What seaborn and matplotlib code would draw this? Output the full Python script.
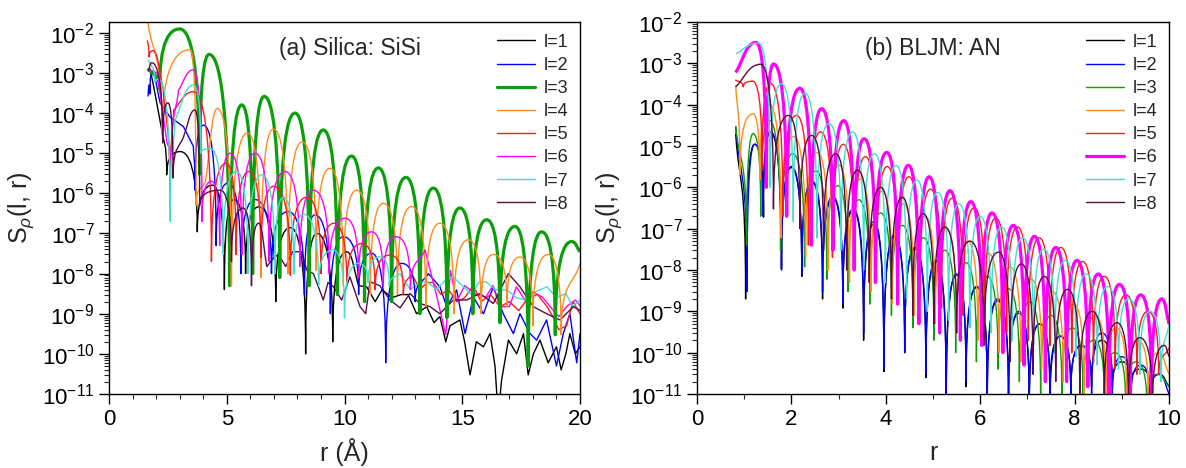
import numpy as np
import pandas as pd
import matplotlib
matplotlib.use("Agg")
import matplotlib.pyplot as plt
from matplotlib.path import Path
from matplotlib.patches import PathPatch
from matplotlib.lines import Line2D
from matplotlib.ticker import LogLocator, MultipleLocator, NullFormatter
import seaborn as sns

# ---------------- data: panel (a) Silica SiSi (extrema) ----------------
a1_r = [1.74, 1.9, 2.24, 2.45, 3.02, 3.75, 4.4, 4.9, 5.3, 5.8, 6.35, 7.08, 7.7, 8.35, 8.82, 9.5, 10.09, 10.6]
a1_S = [1.3e-3, 4.5e-4, 3.8e-5, 2.9e-6, 1.1e-5, 1.1e-7, 1.6e-6, 4e-9, 7e-7, 1e-8, 4.6e-7, 2e-9, 1.4e-7, 1e-10, 1e-7, 2e-10, 3.5e-8, 5e-9]
a1_tail_r = [10.6, 10.94, 11.3, 11.6, 12.0, 12.4, 12.7, 13.06, 13.49, 13.8, 14.05, 14.3, 14.48, 14.9, 15.1, 15.33, 15.6, 15.9, 16.18,
             16.39, 16.5, 16.6, 16.67, 16.96, 17.31, 17.6, 17.8, 18.02, 18.3, 18.65, 19.0, 19.2, 19.4, 19.57, 19.8, 20.0]
a1_tail_S = [5e-9, 4.7e-9, 2e-9, 4e-9, 2.5e-9, 3e-9, 3e-9, 1e-9, 1.5e-9, 6e-10, 8.5e-10, 2e-10, 5e-10, 7e-10, 2e-10, 3e-11, 2e-10, 1.5e-10, 3.2e-10,
             5e-11, 5e-12, 8e-12, 2.2e-11, 2.2e-10, 1e-10, 3.2e-10, 3e-11, 1e-10, 2.2e-10, 6e-11, 1.5e-10, 4e-11, 1e-10, 3.2e-10, 1e-10, 1.5e-10]

a2_r = [1.66, 1.7, 1.74, 1.82, 2.17, 2.59, 3.16, 3.58, 3.65, 4.01, 4.55, 5.05, 5.6, 6.2, 6.9, 7.6, 8.3, 8.75, 9.4, 9.95, 10.6, 11.15, 11.75, 12.43, 13.0, 13.56]
a2_S = [2.6e-4, 5e-4, 3e-4, 1e-3, 1.8e-4, 8e-5, 4.6e-5, 1.5e-5, 1.2e-6, 5e-5, 5e-8, 1.8e-6, 1e-8, 7e-7, 1e-8, 3.5e-7, 3e-9, 2.9e-7, 1e-9, 8.3e-8, 3e-9, 3.2e-8, 6e-11, 1.8e-8, 2e-9, 1e-8]
a2_tail_r = [13.56, 14.05, 14.34, 14.76, 15.12, 15.47, 15.9, 16.32, 16.74, 17.17, 17.45, 17.88, 18.16, 18.58, 19.0, 19.29, 19.57, 19.86, 20.0]
a2_tail_S = [1e-8, 4.7e-9, 1.5e-9, 3.9e-9, 3.2e-10, 2.6e-9, 1e-9, 4.7e-9, 1e-9, 3.2e-10, 1e-9, 3.2e-10, 2.2e-10, 7e-10, 5e-11, 3.2e-10, 1e-9, 6e-11, 3.2e-10]

a3_r = [1.65, 2.15, 3.0, 3.85, 4.25, 5.12, 5.64, 6.1, 6.59, 7.25, 7.9, 8.5, 9.1, 9.7, 10.3, 10.85, 11.44, 12.0, 12.61, 13.2,
        13.77, 14.35, 14.9, 15.45, 16.04, 16.6, 17.24, 17.8, 18.37, 18.95, 19.65, 20.0]
a3_S = [1.3e-3, 4e-4, 1.25e-2, 3e-6, 2.9e-3, 5e-9, 1.6e-4, 1e-8, 2.6e-4, 8e-9, 1.0e-4, 5e-9, 3.8e-5, 3e-9, 8.5e-6, 2e-9, 4.3e-6, 2e-9, 2.5e-6, 1e-9,
        1.35e-6, 8e-10, 4.3e-7, 1e-9, 2.2e-7, 6e-10, 1.5e-7, 5e-11, 1.1e-7, 3e-10, 6.3e-8, 3.5e-8]

a4_r = [1.66, 2.25, 3.45, 3.7, 4.1, 4.6, 5.2, 5.88, 6.45, 6.98, 7.6, 8.2, 8.8, 9.38, 9.95, 10.52, 11.1, 11.65, 12.25, 12.85,
        13.45, 14.05, 14.65, 15.26, 15.8, 16.32, 16.9, 17.45, 18.0, 18.65, 19.2, 20.0]
a4_S = [1.8e-2, 3e-5, 3.8e-3, 5e-7, 2e-6, 1.3e-4, 5e-9, 3.2e-5, 8e-9, 4.0e-5, 1e-8, 1.9e-5, 1.2e-8, 4.2e-6, 5e-9, 1.2e-6, 3e-9, 5.6e-7, 3e-9, 4.7e-7,
        1.5e-9, 1.8e-7, 1e-9, 7e-8, 1e-9, 3e-8, 1.5e-9, 2.6e-8, 5e-10, 3e-8, 3e-10, 1.8e-8]

a5_r = [1.63, 1.70, 1.87, 2.3, 2.59, 2.75, 3.58, 4.35, 4.97, 5.4, 5.95, 6.45, 7.0, 7.7, 8.4, 9.0, 9.55, 10.1, 10.73, 11.3, 11.93, 12.5, 12.85]
a5_S = [6.5e-3, 2.5e-3, 3.6e-3, 4e-4, 5e-7, 1.2e-4, 3.4e-4, 2e-8, 5.6e-6, 3e-8, 3.5e-6, 2.5e-8, 1.5e-6, 9e-9, 8e-7, 1e-8, 1.8e-7, 5e-9, 5.6e-8, 4e-9, 2.9e-8, 3e-9, 1e-8]
a5_tail_r = [12.85, 13.2, 13.5, 13.77, 14.1, 14.4, 14.8, 15.1, 15.47, 15.8, 16.2, 16.6, 17.0, 17.4, 17.8, 18.2, 18.6, 18.87, 19.1, 19.43, 19.7, 20.0]
a5_tail_S = [1e-8, 4e-9, 6e-9, 6e-9, 3e-9, 4e-9, 2e-9, 2.5e-9, 5e-9, 2e-9, 3e-9, 1.5e-9, 2e-9, 1.2e-9, 2.5e-9, 3e-9, 1.5e-9, 8e-10, 4e-10, 5e-10, 2e-9, 1e-9]

a6_r = [1.74, 2.05, 2.45, 2.65, 2.95, 3.58, 3.95, 4.35, 4.7, 5.14, 5.65, 6.2, 6.8, 7.48, 8.1, 8.68, 9.35, 10.02, 10.6, 11.15, 11.65, 12.2, 12.8, 13.42]
a6_S = [1.2e-3, 1.0e-3, 2e-5, 5e-6, 3.7e-4, 1.2e-3, 2e-7, 2e-6, 5e-8, 1e-5, 3e-8, 1e-5, 2e-8, 3.5e-6, 1.5e-8, 1.2e-6, 1e-8, 2.4e-7, 8e-9, 1.1e-7, 5e-9, 8.3e-8, 4e-9, 3.9e-8]
a6_tail_r = [13.42, 13.9, 14.3, 14.5, 14.76, 15.1, 15.6, 16.0, 16.3, 16.6, 17.0, 17.3, 17.7, 18.0, 18.4, 18.87, 19.1, 19.43, 19.8, 20.0]
a6_tail_S = [3.9e-8, 3e-9, 3e-10, 1.2e-8, 2e-9, 5e-9, 3e-9, 2.6e-9, 5e-9, 1.5e-9, 1.5e-9, 4.7e-9, 2e-9, 3.5e-9, 2.6e-9, 1.2e-9, 8.5e-10, 1.5e-9, 2.2e-9, 1.6e-9]

a7_r = [1.67, 1.95, 2.1, 2.6, 2.81, 3.58, 3.9, 4.3, 4.85, 5.42, 5.9, 6.49, 7.05, 7.4, 7.85, 8.25, 8.9, 9.53, 10.0, 10.59, 11.0, 11.5, 11.9, 12.36]
a7_S = [2.1e-3, 6e-4, 7e-4, 2e-7, 6.8e-5, 5e-4, 1e-5, 1.3e-5, 3e-8, 3.5e-6, 1e-8, 2.9e-6, 1e-8, 8e-7, 1e-8, 3e-7, 5e-9, 3.9e-8, 8e-10, 1.8e-8, 6e-9, 2.6e-8, 5e-9, 1e-8]
a7_tail_r = [12.36, 12.8, 13.2, 13.5, 13.9, 14.3, 14.6, 15.0, 15.4, 15.7, 16.0, 16.4, 16.9, 17.3, 17.7, 18.1, 18.6, 19.0, 19.4, 19.7, 20.0]
a7_tail_S = [1e-8, 4e-9, 6e-9, 6.3e-9, 4e-9, 7e-9, 8.3e-9, 5e-9, 3e-9, 6e-9, 6.3e-9, 4e-9, 3.9e-9, 2.5e-9, 2.2e-9, 3.5e-9, 4.7e-9, 2.5e-9, 3.2e-9, 1.5e-9, 2.2e-9]

a8_r = [1.67, 1.81, 2.28, 2.5, 2.72, 3.2, 3.65, 3.85, 4.72, 5.2, 5.7, 6.05, 6.35, 6.7]
a8_S = [1.1e-3, 1.8e-3, 1.8e-5, 1.8e-4, 2.4e-6, 3e-5, 1.2e-4, 5e-7, 1.2e-6, 2e-8, 4.3e-7, 5e-9, 1.8e-7, 1.5e-8]
a8_tail_r = [6.7, 7.0, 7.2, 7.5, 7.8, 8.18, 8.4, 8.68, 9.1, 9.3, 9.53, 9.88, 10.23, 10.66, 10.9, 11.08, 11.5, 11.93, 12.36, 12.78, 13.2,
             13.63, 14.05, 14.62, 15.19, 15.75, 16.32, 16.96, 17.45, 18.02, 18.58, 19.15, 19.72, 20.0]
a8_tail_S = [1.5e-8, 2.5e-8, 3e-8, 1.5e-8, 3.5e-8, 3.5e-8, 1.2e-8, 1e-8, 2.2e-9, 6e-9, 4.7e-9, 2.2e-9, 8.3e-9, 1.5e-9, 1e-9, 6.3e-9, 5e-9, 2.2e-9, 1.4e-9, 3.2e-9, 1.8e-9,
             1.5e-9, 1e-9, 2.2e-9, 2.2e-9, 3.2e-9, 1.8e-9, 1e-8, 4.7e-9, 1.5e-9, 1e-9, 7e-10, 1.5e-9, 1.2e-9]

# ---------------- data: panel (b) BLJM AN ----------------
b1_r = [0.82, 1.03, 1.22, 1.41, 1.55, 1.79, 2.0, 2.22, 2.44, 2.66, 2.88, 3.09, 3.31, 3.53, 3.75, 3.96, 4.18, 4.4, 4.62, 4.85,
        5.07, 5.28, 5.5, 5.7, 5.93, 6.15, 6.37, 6.6, 6.82, 7.04, 7.26, 7.48, 7.7, 7.92, 8.14, 8.36, 8.58, 8.8, 9.0, 9.2, 9.4, 9.6, 9.8, 10.0]
b1_S = [2e-5, 2e-9, 1.1e-5, 1.9e-7, 2.2e-5, 1.1e-8, 3e-6, 7e-9, 1.3e-6, 2e-9, 5.5e-7, 1.2e-9, 2.7e-7, 2e-10, 1.3e-7, 3.5e-11, 6.5e-8, 1e-10, 3.2e-8, 2.5e-11,
        1.6e-8, 8e-12, 7.5e-9, 1.5e-11, 3.8e-9, 8e-12, 1.8e-9, 8e-12, 9e-10, 5e-12, 5e-10, 1e-11, 2.5e-10, 1e-11, 1.5e-10, 1.5e-11, 2e-10, 1.5e-11, 6e-11, 2e-11, 4e-11, 1.5e-11, 3e-11, 1.5e-11]

b2_r = [0.82, 1.06, 1.22, 1.4, 1.56, 1.79, 2.0, 2.22, 2.44, 2.66, 2.88, 3.09, 3.31, 3.53, 3.75, 3.96, 4.18, 4.4, 4.62, 4.85,
        5.07, 5.28, 5.5, 5.7, 5.93, 6.15, 6.37, 6.6, 6.82, 7.04, 7.26, 7.48, 7.7, 7.92, 8.14, 8.36, 8.58, 8.8, 9.0, 9.2, 9.4, 9.6, 9.8, 10.0]
b2_S = [3e-5, 3e-9, 1.1e-5, 2e-7, 2.2e-5, 1e-8, 3.2e-6, 8e-9, 1.4e-6, 3e-9, 6e-7, 1.5e-9, 3e-7, 3e-10, 1.5e-7, 4e-11, 7e-8, 1e-10, 3.5e-8, 3e-11,
        1.7e-8, 5e-12, 8e-9, 2e-11, 4e-9, 5e-12, 2e-9, 5e-12, 1e-9, 5e-12, 5e-10, 5e-12, 2.5e-10, 1e-11, 1.5e-10, 1e-11, 3e-10, 1e-11, 8e-11, 1e-11, 5e-11, 8e-12, 3e-11, 1e-11]

b3_r = [0.82, 1.05, 1.19, 1.35, 1.53, 1.77, 2.03, 2.28, 2.52, 2.75, 2.98, 3.2, 3.43, 3.66, 3.89, 4.12, 4.35, 4.58, 4.8, 5.02,
        5.25, 5.48, 5.7, 5.92, 6.15, 6.38, 6.6, 6.83, 7.05, 7.28, 7.5, 7.73, 7.95, 8.18, 8.4, 8.63, 8.85, 9.08, 9.3, 9.53, 9.75, 10.0]
b3_S = [3e-5, 4e-8, 2e-5, 2e-7, 4.2e-5, 3e-8, 6.5e-6, 1.2e-8, 2.5e-6, 6e-9, 1.1e-6, 3e-9, 5e-7, 1.5e-9, 2.4e-7, 8e-10, 1.2e-7, 4e-10, 6e-8, 2e-10,
        3e-8, 1e-10, 1.5e-8, 6e-11, 7e-9, 4e-11, 3.5e-9, 2e-11, 1.7e-9, 1e-11, 8e-10, 1e-11, 4e-10, 8e-12, 2e-10, 8e-12, 1e-10, 6e-12, 6e-11, 5e-12, 3e-11, 1.5e-11]

b4_r = [0.82, 0.91, 1.19, 1.33, 1.53, 1.78, 2.05, 2.3, 2.55, 2.78, 3.0, 3.23, 3.46, 3.69, 3.92, 4.14, 4.37, 4.6, 4.83, 5.05,
        5.28, 5.5, 5.73, 5.95, 6.18, 6.4, 6.63, 6.86, 7.08, 7.3, 7.53, 7.76, 7.98, 8.2, 8.43, 8.66, 8.88, 9.1, 9.33, 9.56, 9.78, 10.0]
b4_S = [3e-4, 2e-6, 6e-5, 1.5e-6, 1e-4, 6e-8, 1.7e-5, 2e-8, 7e-6, 1e-8, 3.5e-6, 5e-9, 1.6e-6, 3e-9, 8e-7, 1.5e-9, 4e-7, 8e-10, 2e-7, 5e-10,
        1e-7, 3e-10, 5e-8, 2e-10, 2.5e-8, 1e-10, 1.2e-8, 6e-11, 6e-9, 4e-11, 3e-9, 2e-11, 1.5e-9, 1e-11, 8e-10, 1e-11, 4e-10, 1e-11, 2e-10, 1e-11, 1e-10, 3e-11]

b5_r = [0.81, 0.98, 1.18, 1.38, 1.55, 1.82, 2.11, 2.36, 2.62, 2.87, 3.1, 3.33, 3.57, 3.8, 4.03, 4.26, 4.49, 4.72, 4.95, 5.18,
        5.41, 5.64, 5.87, 6.1, 6.33, 6.56, 6.79, 7.02, 7.25, 7.48, 7.71, 7.94, 8.17, 8.4, 8.63, 8.86, 9.09, 9.32, 9.55, 9.78, 10.0]
b5_S = [4e-4, 2.7e-4, 3.7e-4, 3e-6, 3.3e-4, 2e-7, 5.5e-5, 4e-8, 2.2e-5, 2e-8, 1.1e-5, 1e-8, 5.5e-6, 5e-9, 3.2e-6, 3e-9, 1.8e-6, 2e-9, 9e-7, 1.2e-9,
        5.5e-7, 8e-10, 3.2e-7, 5e-10, 1.8e-7, 3e-10, 1.1e-7, 2e-10, 6e-8, 1.5e-10, 3.5e-8, 1e-10, 1.6e-8, 6e-11, 7e-9, 4e-11, 2.5e-9, 3e-11, 1e-9, 3e-11, 1.3e-10]

b6_r = [0.82, 1.25, 1.47, 1.62, 1.90, 2.18, 2.42, 2.64, 2.88, 3.11, 3.33, 3.54, 3.78, 4.02, 4.25, 4.48, 4.70, 4.92, 5.14, 5.36,
        5.58, 5.80, 6.03, 6.25, 6.48, 6.70, 6.93, 7.15, 7.38, 7.60, 7.83, 8.05, 8.28, 8.50, 8.73, 8.95, 9.18, 9.40, 9.63, 9.85, 10.0]
b6_S = [6e-4, 3.2e-3, 1e-6, 9.6e-4, 2e-7, 2.5e-4, 4e-8, 8e-5, 3e-8, 4.1e-5, 1e-8, 1.5e-5, 5e-9, 7e-6, 1.5e-9, 3.4e-6, 5e-10, 1.8e-6, 3e-10, 8.3e-7,
        2e-10, 4.5e-7, 1.5e-10, 2.4e-7, 1e-10, 1.2e-7, 5e-11, 6.5e-8, 2e-11, 3.5e-8, 2e-11, 1.7e-8, 1.5e-11, 8e-9, 1e-11, 4.5e-9, 1e-11, 2.5e-9, 8e-12, 2e-9, 5e-10]

b7_r = [0.83, 1.30, 1.55, 1.79, 2.04, 2.29, 2.54, 2.80, 3.05, 3.30, 3.53, 3.76, 3.99, 4.22, 4.44, 4.66, 4.88, 5.10, 5.33, 5.55,
        5.78, 6.00, 6.23, 6.45, 6.68, 6.90, 7.13, 7.35, 7.58, 7.80, 8.03, 8.25, 8.48, 8.70, 8.93, 9.15, 9.38, 9.60, 9.83, 10.0]
b7_S = [1.7e-3, 3.1e-3, 1e-6, 3.2e-4, 1.5e-7, 1.9e-4, 6e-8, 3.5e-5, 3e-8, 2.2e-5, 1e-8, 6.5e-6, 5e-9, 3.4e-6, 2e-9, 1.5e-6, 1e-9, 7.6e-7, 6e-10, 4e-7,
        4e-10, 2e-7, 3e-10, 1.1e-7, 2e-10, 6e-8, 1.5e-10, 3.2e-8, 1e-10, 1.7e-8, 8e-11, 8e-9, 5e-11, 4e-9, 4e-11, 2e-9, 3e-11, 1e-9, 2e-11, 5e-10]

b8_r = [0.82, 1.35, 1.62, 1.94, 2.18, 2.43, 2.68, 2.94, 3.17, 3.40, 3.65, 3.89, 4.12, 4.35, 4.57, 4.79, 5.02, 5.25, 5.50, 5.78,
        6.08, 6.39, 6.63, 6.87, 7.12, 7.36, 7.60, 7.85, 8.11, 8.37, 8.63, 8.90, 9.14, 9.38, 9.65, 9.90, 10.0]
b8_S = [2.7e-4, 9.5e-4, 3e-7, 5.5e-5, 1e-7, 1.8e-5, 3e-8, 6.5e-6, 1e-8, 2.6e-6, 5e-9, 1e-6, 2e-9, 5.7e-7, 8e-10, 2.3e-7, 5e-10, 1.1e-7, 3e-10, 5e-8,
        1.5e-10, 2.7e-8, 6e-11, 1.4e-8, 3e-11, 7e-9, 2e-11, 3.4e-9, 1e-11, 1e-9, 8e-12, 5.3e-10, 5e-12, 2.3e-10, 5e-12, 1.5e-10, 8e-11]

labels = ["l=1", "l=2", "l=3", "l=4", "l=5", "l=6", "l=7", "l=8"]
colors = ["#000000", "#0000ff", "#0a9e0a", "#ff8c1a", "#ff1a1a", "#ff00ff", "#40e0d0", "#5c0a45"]

panel_a = [(a1_r, a1_S), (a2_r, a2_S), (a3_r, a3_S), (a4_r, a4_S), (a5_r, a5_S), (a6_r, a6_S), (a7_r, a7_S), (a8_r, a8_S)]
tails_a = {1: (a1_tail_r, a1_tail_S), 2: (a2_tail_r, a2_tail_S), 5: (a5_tail_r, a5_tail_S),
           6: (a6_tail_r, a6_tail_S), 7: (a7_tail_r, a7_tail_S), 8: (a8_tail_r, a8_tail_S)}
panel_b = [(b1_r, b1_S), (b2_r, b2_S), (b3_r, b3_S), (b4_r, b4_S), (b5_r, b5_S), (b6_r, b6_S), (b7_r, b7_S), (b8_r, b8_S)]

# ---------------- style ----------------
sns.set_theme(style="ticks")
plt.rcParams['font.family'] = ['Liberation Sans', 'DejaVu Sans']
plt.rcParams.update({
    'mathtext.fontset': 'custom',
    'mathtext.rm': 'Liberation Sans',
    'mathtext.it': 'Liberation Sans:italic',
    'mathtext.bf': 'Liberation Sans:bold',
    'axes.unicode_minus': False,
    'axes.linewidth': 1.0,
    'axes.edgecolor': 'black',
})


def arch_path(r, S):
    """Smooth rendering through read extrema: cusps at minima, rounded tops at maxima (log space)."""
    x = np.asarray(r, float)
    y = np.log10(np.asarray(S, float))
    n = len(x)
    kind = []
    for i in range(n):
        if i == 0 or i == n - 1:
            kind.append('mid')
        elif y[i] > y[i - 1] and y[i] > y[i + 1]:
            kind.append('max')
        elif y[i] < y[i - 1] and y[i] < y[i + 1]:
            kind.append('min')
        else:
            kind.append('mid')
    verts = [(x[0], y[0])]
    codes = [Path.MOVETO]
    for i in range(n - 1):
        x0, y0, x1, y1 = x[i], y[i], x[i + 1], y[i + 1]
        dx, dy = x1 - x0, y1 - y0
        if kind[i] == 'min':
            c1 = (x0, y0 + 0.8 * dy)
        elif kind[i] == 'max':
            c1 = (x0 + 0.5 * dx, y0)
        else:
            c1 = (x0 + dx / 3, y0 + dy / 3)
        if kind[i + 1] == 'min':
            c2 = (x1, y1 - 0.8 * dy)
        elif kind[i + 1] == 'max':
            c2 = (x1 - 0.5 * dx, y1)
        else:
            c2 = (x1 - dx / 3, y1 - dy / 3)
        verts += [c1, c2, (x1, y1)]
        codes += [Path.CURVE4] * 3
    verts = np.array(verts)
    verts[:, 1] = 10 ** verts[:, 1]
    return Path(verts, codes)


fig = plt.figure(figsize=(11.86, 4.68), dpi=100)
axA = fig.add_axes([109 / 1186, 74 / 468, 471 / 1186, 372 / 468])
axB = fig.add_axes([697 / 1186, 74 / 468, 472 / 1186, 372 / 468])

for ax in (axA, axB):
    ax.set_yscale('log')

# tails (noisy parts) with seaborn
rows = []
for l, (rr, ss) in tails_a.items():
    for k, (x, v) in enumerate(zip(rr, ss)):
        rows.append({'l': labels[l - 1], 'r': x, 'S': v, 'k': k})
df_tail = pd.DataFrame(rows)
palette = {lab: c for lab, c in zip(labels, colors)}
sns.lineplot(data=df_tail, x='r', y='S', hue='l', palette=palette, estimator=None, sort=False,
             units='l', linewidth=1.0, legend=False, ax=axA)


def draw_panel(ax, curves, thick):
    for i, (rr, ss) in enumerate(curves):
        lw = 2.3 if i == thick else 1.0
        patch = PathPatch(arch_path(rr, ss), fill=False, edgecolor=colors[i], lw=lw,
                          joinstyle='round', capstyle='butt', zorder=2 + i * 0.1)
        ax.add_patch(patch)


draw_panel(axA, panel_a, thick=2)
draw_panel(axB, panel_b, thick=5)

axA.set_xlim(0, 20)
axA.set_ylim(1e-11, 10 ** -1.73)
axB.set_xlim(0, 10)
axB.set_ylim(1e-11, 1e-2)
axA.xaxis.set_major_locator(MultipleLocator(5))
axA.xaxis.set_minor_locator(MultipleLocator(1))
axB.xaxis.set_major_locator(MultipleLocator(2))
axB.xaxis.set_minor_locator(MultipleLocator(1))
for ax in (axA, axB):
    ax.yaxis.set_major_locator(LogLocator(base=10, numticks=20))
    ax.yaxis.set_minor_locator(LogLocator(base=10, subs=np.arange(2, 10), numticks=20))
    ax.yaxis.set_minor_formatter(NullFormatter())
    ax.tick_params(which='major', direction='out', length=7, width=1.0, labelsize=16, colors='black',
                   top=False, right=False)
    ax.tick_params(which='minor', direction='out', length=3.5, width=0.8, top=False, right=False)
    for s in ax.spines.values():
        s.set_visible(True)
        s.set_color('black')
        s.set_linewidth(1.0)
    ax.set_ylabel(r'S$_{\rho}$(l, r)', fontsize=18, labelpad=4)

axA.set_xlabel('r (Å)', fontsize=18, labelpad=6)
axB.set_xlabel('r', fontsize=18, labelpad=8)

axA.text(0.512, 0.93, '(a) Silica: SiSi', transform=axA.transAxes, ha='center', va='center', fontsize=16.5)
axB.text(0.50, 0.93, '(b) BLJM: AN', transform=axB.transAxes, ha='center', va='center', fontsize=16.5)

for ax, thick in ((axA, 2), (axB, 5)):
    handles = [Line2D([], [], color=c, lw=(2.3 if i == thick else 1.0)) for i, c in enumerate(colors)]
    ax.legend(handles, labels, loc='upper right', bbox_to_anchor=(1.0, 1.0), frameon=False, fontsize=13,
              handlelength=2.1, handletextpad=0.45, labelspacing=0.34, borderaxespad=0.25)

fig.savefig('out.png', dpi=100)
